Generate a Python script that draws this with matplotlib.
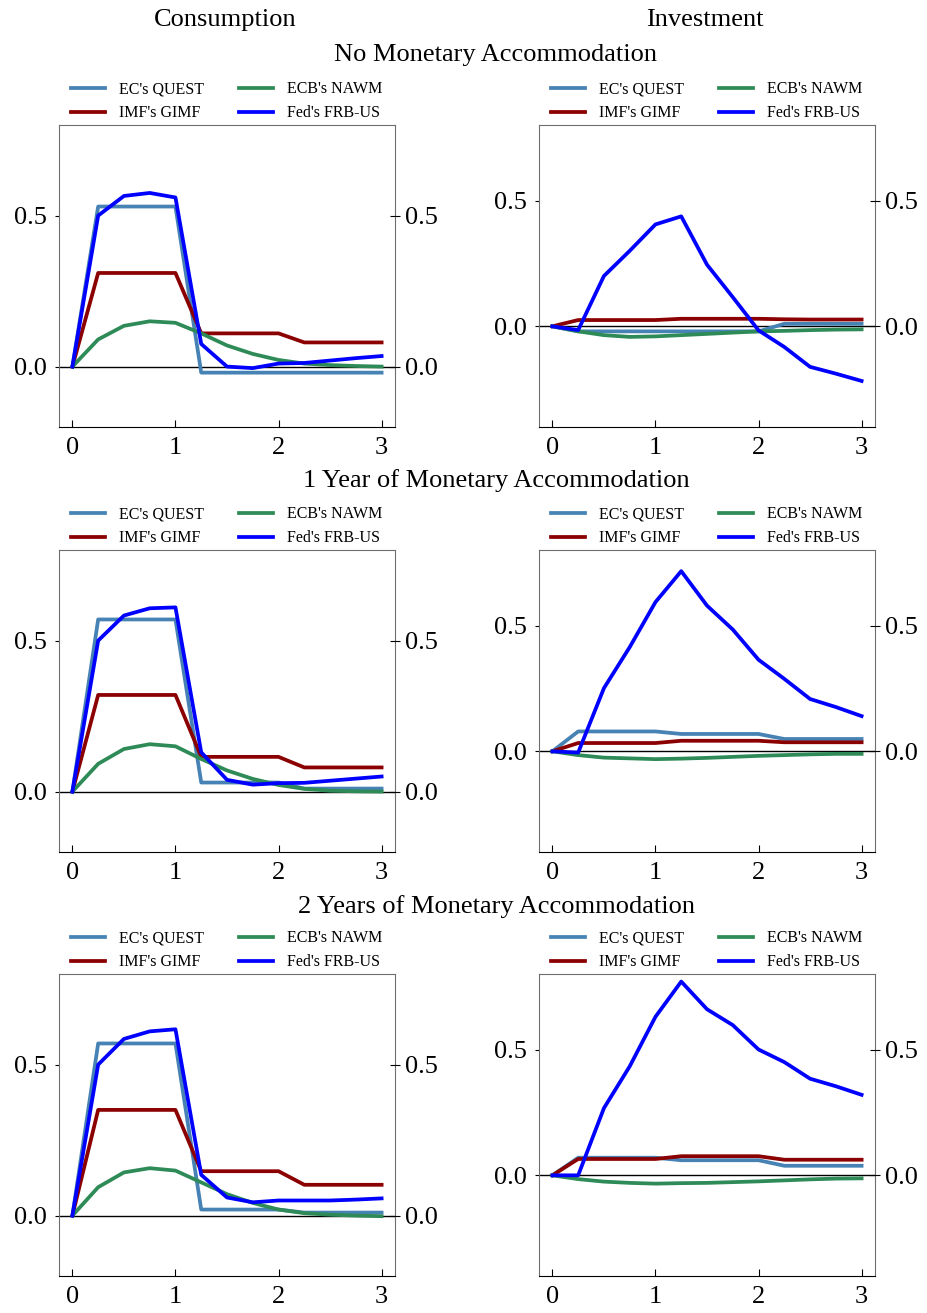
import numpy as np
import matplotlib.pyplot as plt

plt.rcParams['font.family'] = ['Liberation Serif', 'DejaVu Serif']

# quarters after the shock, in years
x = [0, 0.25, 0.5, 0.75, 1.0, 1.25, 1.5, 1.75, 2.0, 2.25, 2.5, 2.75, 3.0]

models = ["EC's QUEST", "IMF's GIMF", "ECB's NAWM", "Fed's FRB-US"]
colors = ['#4682B4', '#8B0000', '#2E8B57', '#0000FF']

row_titles = ['No Monetary Accommodation', '1 Year of Monetary Accommodation',
              '2 Years of Monetary Accommodation']
col_titles = ['Consumption', 'Investment']

# consumption, no accommodation
c0_quest = [0, .53, .53, .53, .53, -.02, -.02, -.02, -.02, -.02, -.02, -.02, -.02]
c0_gimf = [0, .31, .31, .31, .31, .11, .11, .11, .11, .08, .08, .08, .08]
c0_nawm = [0, .09, .135, .15, .145, .11, .07, .042, .022, .01, .005, .002, 0]
c0_frb = [0, .5, .565, .575, .56, .075, 0, -.005, .01, .012, .02, .028, .035]

# investment, no accommodation
i0_quest = [0, -.02, -.02, -.02, -.02, -.02, -.02, -.02, -.02, .01, .01, .01, .01]
i0_gimf = [0, .025, .025, .025, .025, .03, .03, .03, .03, .028, .027, .027, .027]
i0_nawm = [0, -.02, -.035, -.042, -.04, -.035, -.03, -.025, -.02, -.018, -.015, -.013, -.012]
i0_frb = [0, -.015, .2, .30, .405, .437, .245, .116, -.016, -.082, -.161, -.188, -.217]

# consumption, 1 year
c1_quest = [0, .57, .57, .57, .57, .03, .03, .03, .03, .01, .01, .01, .01]
c1_gimf = [0, .32, .32, .32, .32, .115, .115, .115, .115, .08, .08, .08, .08]
c1_nawm = [0, .092, .141, .157, .15, .108, .07, .042, .022, .009, .003, .001, 0]
c1_frb = [0, .5, .583, .607, .61, .13, .039, .023, .028, .029, .036, .043, .05]

# investment, 1 year
i1_quest = [0, .079, .079, .079, .079, .069, .069, .069, .069, .049, .049, .049, .049]
i1_gimf = [0, .033, .033, .033, .033, .042, .042, .042, .042, .036, .036, .036, .036]
i1_nawm = [0, -.015, -.025, -.028, -.031, -.029, -.026, -.022, -.018, -.015, -.012, -.01, -.01]
i1_frb = [0, -.005, .251, .414, .593, .716, .579, .484, .364, .288, .208, .176, .14]

# consumption, 2 years
c2_quest = [0, .57, .57, .57, .57, .02, .02, .02, .02, .01, .01, .01, .01]
c2_gimf = [0, .35, .35, .35, .35, .147, .147, .147, .147, .102, .102, .102, .102]
c2_nawm = [0, .094, .143, .157, .149, .11, .071, .042, .02, .008, .003, 0, -.002]
c2_frb = [0, .5, .585, .61, .617, .135, .06, .044, .05, .05, .05, .053, .057]

# investment, 2 years
i2_quest = [0, .07, .07, .07, .07, .06, .06, .06, .06, .038, .038, .038, .038]
i2_gimf = [0, .065, .065, .065, .065, .076, .076, .076, .076, .062, .062, .062, .062]
i2_nawm = [0, -.015, -.025, -.03, -.033, -.031, -.03, -.027, -.024, -.02, -.016, -.013, -.012]
i2_frb = [0, 0, .267, .433, .63, .77, .66, .597, .5, .45, .384, .354, .32]

panels = [
    [[c0_quest, c0_gimf, c0_nawm, c0_frb], [i0_quest, i0_gimf, i0_nawm, i0_frb]],
    [[c1_quest, c1_gimf, c1_nawm, c1_frb], [i1_quest, i1_gimf, i1_nawm, i1_frb]],
    [[c2_quest, c2_gimf, c2_nawm, c2_frb], [i2_quest, i2_gimf, i2_nawm, i2_frb]],
]
ylims = [(-0.2, 0.8), (-0.4, 0.8)]

W, H = 927, 1313
fig = plt.figure(figsize=(W / 100, H / 100), dpi=100)

lefts = [59, 539]
tops = [125, 550, 974]
aw, ah = 336, 302

for r in range(3):
    for c in range(2):
        ax = fig.add_axes([lefts[c] / W, 1 - (tops[r] + ah) / H, aw / W, ah / H])
        ax.axhline(0, color='black', lw=1.0, zorder=1)
        for series, name, col in zip(panels[r][c], models, colors):
            ax.plot(x, series, color=col, lw=2.7, label=name, zorder=2)
        ax.set_xlim(-0.13, 3.13)
        ax.set_ylim(*ylims[c])
        ax.set_xticks([0, 1, 2, 3])
        ax.set_yticks([0, 0.5])
        ax.set_yticklabels(['0.0', '0.5'])
        ax.tick_params(axis='x', direction='in', length=5, labelsize=19, pad=7)
        ax.tick_params(axis='y', direction='out', length=3, labelsize=19, pad=6)
        for s in ['left', 'right', 'top']:
            ax.spines[s].set_color('#6e6e6e')
        ax.spines['bottom'].set_color('black')

        ax2 = ax.twinx()
        ax2.set_ylim(*ylims[c])
        ax2.set_yticks([0, 0.5])
        ax2.set_yticklabels(['0.0', '0.5'])
        ax2.tick_params(axis='y', direction='inout', length=7, labelsize=19, pad=4)
        for s in ['left', 'right', 'top', 'bottom']:
            ax2.spines[s].set_visible(False)

        ax.legend(loc='lower center', bbox_to_anchor=(0.5, 0.986), ncol=2,
                  frameon=False, fontsize=11.5, handlelength=2.1,
                  handletextpad=0.9, columnspacing=2.2, labelspacing=0.5,
                  borderpad=0)

for c, t in enumerate(col_titles):
    fig.text((lefts[c] + aw / 2 - 2) / W, 1 - 20 / H, t, ha='center', va='center', fontsize=19)
for r, t in enumerate(row_titles):
    y_px = [55, 481, 907][r]
    fig.text(496 / W, 1 - y_px / H, t, ha='center', va='center', fontsize=19)

fig.savefig('out.png', dpi=100)
